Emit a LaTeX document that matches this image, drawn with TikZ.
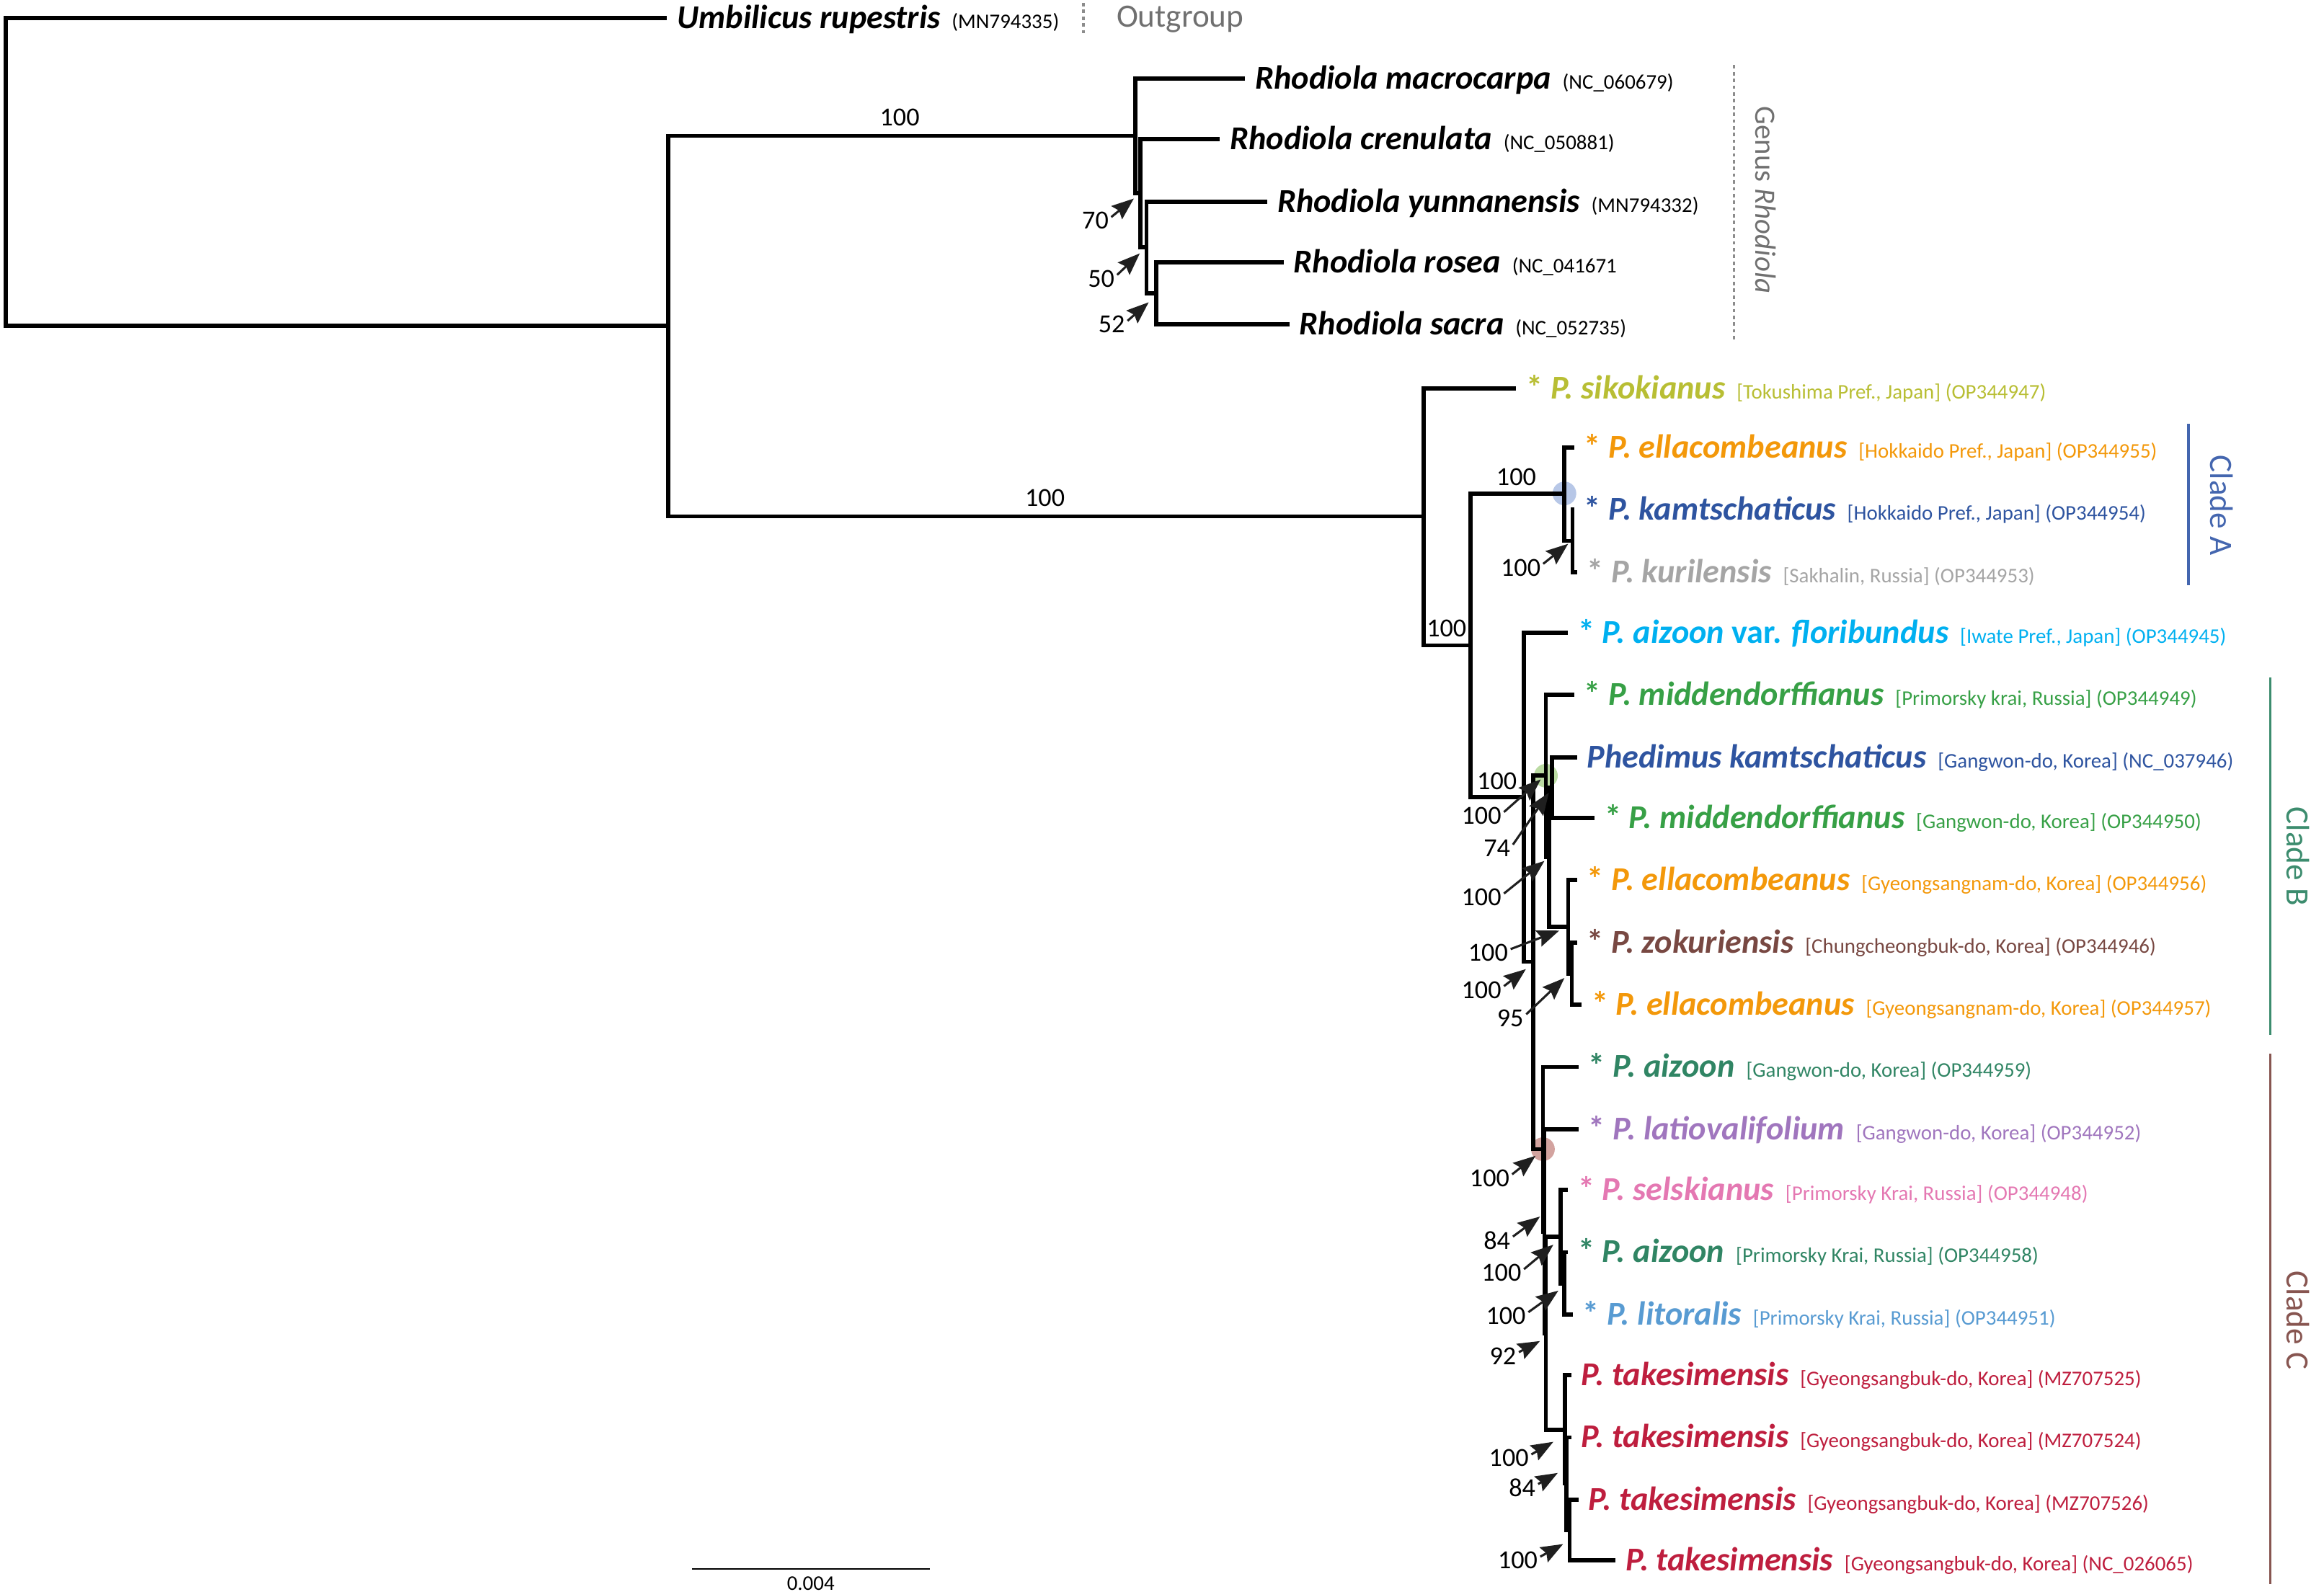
\documentclass[tikz,border=0pt]{standalone}
\usepackage{fontspec}
\setmainfont{Carlito}
\usetikzlibrary{arrows.meta}
\definecolor{cSik}{RGB}{184,190,52}
\definecolor{cEll}{RGB}{243,152,10}
\definecolor{cKam}{RGB}{46,84,160}
\definecolor{cKur}{RGB}{165,165,165}
\definecolor{cFlo}{RGB}{0,176,240}
\definecolor{cMid}{RGB}{55,160,70}
\definecolor{cZok}{RGB}{120,72,66}
\definecolor{cAiz}{RGB}{48,133,100}
\definecolor{cLat}{RGB}{160,118,190}
\definecolor{cSel}{RGB}{228,120,178}
\definecolor{cLit}{RGB}{88,155,210}
\definecolor{cTak}{RGB}{190,30,62}
\definecolor{cCA}{RGB}{68,102,175}
\definecolor{cCB}{RGB}{60,140,110}
\definecolor{cCC}{RGB}{135,85,80}
\definecolor{cGrey}{RGB}{112,112,112}
\definecolor{cDot}{RGB}{140,140,140}
\definecolor{cirA}{RGB}{165,185,225}
\definecolor{cirB}{RGB}{170,210,140}
\definecolor{cirC}{RGB}{200,140,135}
\newcommand\sst{{\bfseries *}\ }
\newcommand\nm[1]{{\bfseries\itshape #1}}
\newcommand\ac[1]{\hspace{1.5pt}{\fontsize{8}{10}\selectfont #1}}
\begin{document}
\begin{tikzpicture}[x=0.02cm,y=-0.02cm,
  br/.style={line width=1.6pt,line join=miter},
  arr/.style={draw=black!88,line width=0.85pt,-{Stealth[length=8.5pt,width=6.5pt,inset=1.2pt]}},
  bs/.style={font=\fontsize{10}{12}\selectfont,inner sep=0pt},
  lab/.style={anchor=mid west,inner sep=0pt,yshift=-1.6pt,font=\fontsize{12.8}{15}\selectfont},
  clab/.style={rotate=-90,inner sep=0pt,font=\fontsize{12.5}{15}\selectfont},
  dotl/.style={draw=cDot,line width=0.9pt,dash pattern=on 1.3pt off 1.3pt}]
\useasboundingbox (0,0) rectangle (1568,1074);
% ---- internal nodes
\coordinate (root) at (4,116);
\coordinate (A) at (451,220);
\coordinate (R1) at (766,91.7);
\coordinate (R2) at (769.5,130.5);
\coordinate (R3) at (773.5,167);
\coordinate (R4) at (780,198);
\coordinate (P) at (960.5,348.5);
\coordinate (Q) at (992,435.5);
\coordinate (CA1) at (1055.5,333);
\coordinate (CA2) at (1061,365);
\coordinate (S) at (1028,538);
\coordinate (T) at (1034.6,649);
\coordinate (U) at (1043,523.5);
\coordinate (M) at (1045,578.5);
\coordinate (M1) at (1047,531.5);
\coordinate (E1) at (1058,625.5);
\coordinate (E2) at (1060.5,657);
\coordinate (V) at (1041,775.5);
\coordinate (X1) at (1042,831);
\coordinate (X2) at (1043,900);
\coordinate (SG) at (1053,834.5);
\coordinate (SG2) at (1055.5,866);
\coordinate (TG) at (1056,965);
\coordinate (TG1) at (1057,1001);
\coordinate (TG2) at (1059,1032.5);
% ---- tips
\coordinate (umb) at (450,12);
\coordinate (mac) at (840,53);
\coordinate (cren) at (823,94);
\coordinate (yunn) at (855,136);
\coordinate (rosea) at (866,177);
\coordinate (sacra) at (870,219);
\coordinate (sik) at (1023,262);
\coordinate (ellH) at (1062,302);
\coordinate (kamH) at (1062,344);
\coordinate (kur) at (1064,386);
\coordinate (flo) at (1058,427);
\coordinate (midR) at (1062,469);
\coordinate (phed) at (1064,511);
\coordinate (midG) at (1076,552);
\coordinate (ellGa) at (1064,594);
\coordinate (zok) at (1064,636);
\coordinate (ellGb) at (1067,678);
\coordinate (aizG) at (1065,720);
\coordinate (lat) at (1065,762);
\coordinate (sel) at (1058,803);
\coordinate (aizP) at (1058,845);
\coordinate (lit) at (1061,887);
\coordinate (takA) at (1060,928);
\coordinate (takB) at (1060,970);
\coordinate (takC) at (1065,1012);
\coordinate (takD) at (1090,1053);
% ---- clade circles
\fill[cirA,opacity=0.8] (CA1) circle[radius=8];
\fill[cirB,opacity=0.8] (U) circle[radius=8];
\fill[cirC,opacity=0.8] (V) circle[radius=8];
% ---- branches
\foreach \p/\c in {root/umb,root/A,A/R1,A/P,R1/mac,R1/R2,R2/cren,R2/R3,R3/yunn,R3/R4,R4/rosea,R4/sacra,
  P/sik,P/Q,Q/CA1,Q/S,CA1/ellH,CA1/CA2,CA2/kamH,CA2/kur,S/flo,S/T,T/U,T/V,U/midR,U/M,M/M1,M/E1,
  M1/phed,M1/midG,E1/ellGa,E1/E2,E2/zok,E2/ellGb,V/aizG,V/X1,X1/lat,X1/X2,X2/SG,X2/TG,
  SG/sel,SG/SG2,SG2/aizP,SG2/lit,TG/takA,TG/TG1,TG1/takB,TG1/TG2,TG2/takC,TG2/takD}
  \draw[br] (\p) |- (\c);
% ---- leaf labels
\node[lab] (Lumb) at ([xshift=0.13cm]umb) {\nm{Umbilicus rupestris} \ac{(MN794335)}};
\node[lab] (Lmac) at ([xshift=0.13cm]mac) {\nm{Rhodiola macrocarpa} \ac{(NC\_060679)}};
\node[lab] (Lcren) at ([xshift=0.13cm]cren) {\nm{Rhodiola crenulata} \ac{(NC\_050881)}};
\node[lab] (Lyunn) at ([xshift=0.13cm]yunn) {\nm{Rhodiola yunnanensis} \ac{(MN794332)}};
\node[lab] (Lrosea) at ([xshift=0.13cm]rosea) {\nm{Rhodiola rosea} \ac{(NC\_041671}};
\node[lab] (Lsacra) at ([xshift=0.13cm]sacra) {\nm{Rhodiola sacra} \ac{(NC\_052735)}};
\node[lab,text=cSik] (Lsik) at ([xshift=0.13cm]sik) {\sst\nm{P. sikokianus} \ac{[Tokushima Pref., Japan] (OP344947)}};
\node[lab,text=cEll] (LellH) at ([xshift=0.13cm]ellH) {\sst\nm{P. ellacombeanus} \ac{[Hokkaido Pref., Japan] (OP344955)}};
\node[lab,text=cKam] (LkamH) at ([xshift=0.13cm]kamH) {\sst\nm{P. kamtschaticus} \ac{[Hokkaido Pref., Japan] (OP344954)}};
\node[lab,text=cKur] (Lkur) at ([xshift=0.13cm]kur) {\sst\nm{P. kurilensis} \ac{[Sakhalin, Russia] (OP344953)}};
\node[lab,text=cFlo] (Lflo) at ([xshift=0.13cm]flo) {\sst\nm{P. aizoon} {\bfseries var.} \nm{floribundus} \ac{[Iwate Pref., Japan] (OP344945)}};
\node[lab,text=cMid] (LmidR) at ([xshift=0.13cm]midR) {\sst\nm{P. middendorffianus} \ac{[Primorsky krai, Russia] (OP344949)}};
\node[lab,text=cKam] (Lphed) at ([xshift=0.13cm]phed) {\nm{Phedimus kamtschaticus} \ac{[Gangwon-do, Korea] (NC\_037946)}};
\node[lab,text=cMid] (LmidG) at ([xshift=0.13cm]midG) {\sst\nm{P. middendorffianus} \ac{[Gangwon-do, Korea] (OP344950)}};
\node[lab,text=cEll] (LellGa) at ([xshift=0.13cm]ellGa) {\sst\nm{P. ellacombeanus} \ac{[Gyeongsangnam-do, Korea] (OP344956)}};
\node[lab,text=cZok] (Lzok) at ([xshift=0.13cm]zok) {\sst\nm{P. zokuriensis} \ac{[Chungcheongbuk-do, Korea] (OP344946)}};
\node[lab,text=cEll] (LellGb) at ([xshift=0.13cm]ellGb) {\sst\nm{P. ellacombeanus} \ac{[Gyeongsangnam-do, Korea] (OP344957)}};
\node[lab,text=cAiz] (LaizG) at ([xshift=0.13cm]aizG) {\sst\nm{P. aizoon} \ac{[Gangwon-do, Korea] (OP344959)}};
\node[lab,text=cLat] (Llat) at ([xshift=0.13cm]lat) {\sst\nm{P. latiovalifolium} \ac{[Gangwon-do, Korea] (OP344952)}};
\node[lab,text=cSel] (Lsel) at ([xshift=0.13cm]sel) {\sst\nm{P. selskianus} \ac{[Primorsky Krai, Russia] (OP344948)}};
\node[lab,text=cAiz] (LaizP) at ([xshift=0.13cm]aizP) {\sst\nm{P. aizoon} \ac{[Primorsky Krai, Russia] (OP344958)}};
\node[lab,text=cLit] (Llit) at ([xshift=0.13cm]lit) {\sst\nm{P. litoralis} \ac{[Primorsky Krai, Russia] (OP344951)}};
\node[lab,text=cTak] (LtakA) at ([xshift=0.13cm]takA) {\nm{P. takesimensis} \ac{[Gyeongsangbuk-do, Korea] (MZ707525)}};
\node[lab,text=cTak] (LtakB) at ([xshift=0.13cm]takB) {\nm{P. takesimensis} \ac{[Gyeongsangbuk-do, Korea] (MZ707524)}};
\node[lab,text=cTak] (LtakC) at ([xshift=0.13cm]takC) {\nm{P. takesimensis} \ac{[Gyeongsangbuk-do, Korea] (MZ707526)}};
\node[lab,text=cTak] (LtakD) at ([xshift=0.13cm]takD) {\nm{P. takesimensis} \ac{[Gyeongsangbuk-do, Korea] (NC\_026065)}};
% ---- support values on branches
\node[bs] (bA1) at (607,79) {100};
\node[bs] (bA2) at (705,336) {100};
\node[bs] (bQ) at (976,424) {100};
\node[bs] (bCA1) at (1023,322) {100};
\node[bs] (bS) at (1010,527) {100};
% ---- support values with arrows
\coordinate (t70) at (765,134);
\coordinate (t50) at (769,171);
\coordinate (t52) at (775,204);
\coordinate (tCA2) at (1058,367);
\coordinate (tU) at (1039.5,526);
\coordinate (tM1) at (1045,535);
\coordinate (tM) at (1042,581);
\coordinate (tE1) at (1052,628);
\coordinate (tT) at (1029.5,654);
\coordinate (tE2) at (1055.5,660);
\coordinate (tV) at (1036,780);
\coordinate (tX1) at (1039,821);
\coordinate (tSG) at (1048,840);
\coordinate (tSG2) at (1051.4,871);
\coordinate (tX2) at (1039,905);
\coordinate (tTG) at (1048,973);
\coordinate (tTG1) at (1051,994);
\coordinate (tTG2) at (1054.6,1042);
\foreach \n/\x/\y/\v in {70/739/149/70, 50/743/188/50, 52/750/219/52,
  CA2/1026/383/100, U/999.5/550.5/100, M1/1010/572.5/74, M/999.5/605.5/100,
  E1/1004/643/100, T/999.5/668/100, E2/1019/687/95, V/1005/795/100,
  X1/1010/837/84, SG/1013/859/100, SG2/1016/888/100, X2/1014/915/92,
  TG/1018/984/100, TG1/1027/1004/84, TG2/1024/1053/100}{
  \node[bs] (b\n) at (\x,\y) {\v};
  \draw[arr] ([shift={(1.5,-2.5)}]b\n.east) -- (t\n);
}
% ---- group annotations
\coordinate (ogT) at (731,2); \coordinate (ogB) at (731,23);
\draw[dotl] (ogT) -- (ogB);
\node[anchor=mid west,inner sep=0pt,yshift=-1.2pt,text=cGrey,font=\fontsize{12.5}{15}\selectfont] (og) at (753,12) {Outgroup};
\coordinate (grT) at (1170,44); \coordinate (grB) at (1170,230);
\draw[dotl] (grT) -- (grB);
\node[clab,text=cGrey,font=\fontsize{11.3}{14}\selectfont] (genus) at (1191.5,135) {Genus \textit{Rhodiola}};
\coordinate (caT) at (1476.6,286); \coordinate (caB) at (1476.6,395);
\draw[cCA,line width=0.9pt] (caT) -- (caB);
\node[clab,text=cCA] (cladeA) at (1499,341) {Clade A};
\coordinate (cbT) at (1531.6,457); \coordinate (cbB) at (1531.6,698.5);
\draw[cCB,line width=0.9pt] (cbT) -- (cbB);
\node[clab,text=cCB] (cladeB) at (1550.5,578) {Clade B};
\coordinate (ccT) at (1531.6,711); \coordinate (ccB) at (1531.6,1069);
\draw[cCC,line width=0.9pt] (ccT) -- (ccB);
\node[clab,text=cCC] (cladeC) at (1550.5,891) {Clade C};
% ---- scale bar
\coordinate (sbL) at (467,1058.7); \coordinate (sbR) at (627.4,1058.7);
\draw[line width=0.5pt] (sbL) -- (sbR);
\node[inner sep=0pt,font=\fontsize{8}{10}\selectfont] (sbt) at (547,1068.5) {0.004};
\end{tikzpicture}
\end{document}
